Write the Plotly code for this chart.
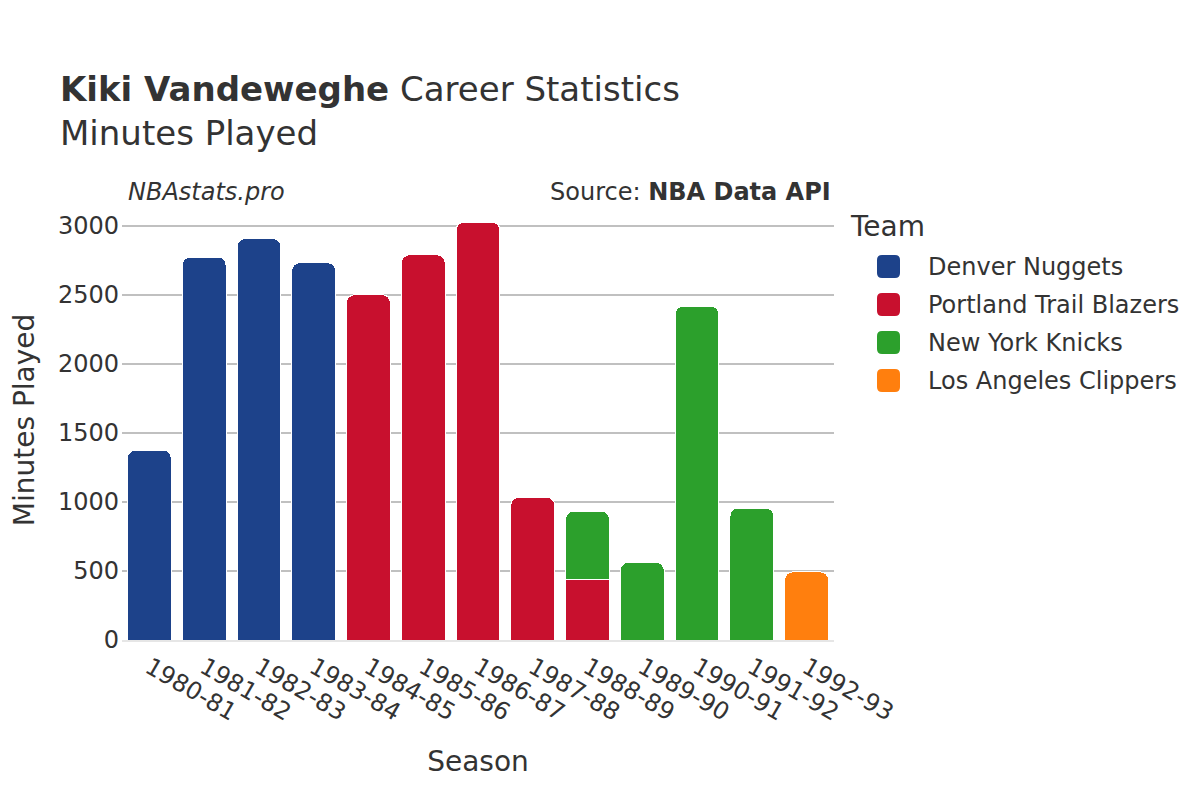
import plotly.graph_objects as go

seasons = ["1980-81", "1981-82", "1982-83", "1983-84", "1984-85", "1985-86", "1986-87",
           "1987-88", "1988-89", "1989-90", "1990-91", "1991-92", "1992-93"]

teams = ["Denver Nuggets", "Portland Trail Blazers", "New York Knicks", "Los Angeles Clippers"]
colors = ["#1d428a", "#c8102e", "#2ca02c", "#ff7f0e"]

denver_seasons = ["1980-81", "1981-82", "1982-83", "1983-84"]
denver_minutes = [1376, 2775, 2909, 2734]

portland_seasons = ["1984-85", "1985-86", "1986-87", "1987-88", "1988-89"]
portland_minutes = [2502, 2791, 3029, 1035, 437]

knicks_seasons = ["1988-89", "1989-90", "1990-91", "1991-92"]
knicks_minutes = [497, 562, 2420, 956]

clippers_seasons = ["1992-93"]
clippers_minutes = [494]

series = [
    (denver_seasons, denver_minutes),
    (portland_seasons, portland_minutes),
    (knicks_seasons, knicks_minutes),
    (clippers_seasons, clippers_minutes),
]

font_family = "DejaVu Sans"
text_color = "#333333"

W, H = 1200, 800
ML, MR, MT, MB = 114, 374, 192, 168
PW = W - ML - MR
PH = H - MT - MB


def px_to_paper_x(px):
    return (px - ML) / PW


def px_to_paper_y(py):
    return (H - MB - py) / PH


fig = go.Figure()
for name, color, (xs, ys) in zip(teams, colors, series):
    fig.add_trace(go.Bar(x=xs, y=ys, name=name, marker_color=color,
                         marker_line_width=1, marker_line_color="white",
                         showlegend=False))

annotations = [
    dict(text="<i>NBAstats.pro</i>", xref="paper", yref="paper", x=0.005, y=1.018,
         xanchor="left", yanchor="middle", showarrow=False,
         font=dict(size=24, color=text_color)),
    dict(text="Source: <b>NBA Data API</b>", xref="paper", yref="paper", x=0.998, y=1.018,
         xanchor="right", yanchor="middle", showarrow=False,
         font=dict(size=24, color=text_color)),
    dict(text="Team", xref="paper", yref="paper", x=px_to_paper_x(840), y=px_to_paper_y(218),
         xanchor="left", yanchor="middle", showarrow=False,
         font=dict(size=28, color=text_color)),
]
shapes = []
sym_half = 11.5
r = 5
sym_path = (f"M{-sym_half + r},{-sym_half} L{sym_half - r},{-sym_half} "
            f"Q{sym_half},{-sym_half} {sym_half},{-sym_half + r} "
            f"L{sym_half},{sym_half - r} Q{sym_half},{sym_half} {sym_half - r},{sym_half} "
            f"L{-sym_half + r},{sym_half} Q{-sym_half},{sym_half} {-sym_half},{sym_half - r} "
            f"L{-sym_half},{-sym_half + r} Q{-sym_half},{-sym_half} {-sym_half + r},{-sym_half} Z")
for i, (name, color) in enumerate(zip(teams, colors)):
    yc = 258.5 + 38 * i
    annotations.append(dict(text=name, xref="paper", yref="paper",
                            x=px_to_paper_x(918), y=px_to_paper_y(yc),
                            xanchor="left", yanchor="middle", showarrow=False,
                            font=dict(size=24, color=text_color)))
    shapes.append(dict(type="path", xref="paper", yref="paper",
                       xsizemode="pixel", ysizemode="pixel",
                       xanchor=px_to_paper_x(880.5), yanchor=px_to_paper_y(yc),
                       path=sym_path, fillcolor=color, line=dict(width=0)))

fig.update_layout(
    width=W, height=H,
    barmode="stack",
    barcornerradius=8,
    bargap=0.2,
    plot_bgcolor="white",
    paper_bgcolor="white",
    font=dict(family=font_family, color=text_color, size=24),
    title=dict(
        text="<b>Kiki Vandeweghe</b> Career Statistics<br>Minutes Played",
        x=52 / W, xanchor="left", y=0.884, yanchor="top",
        font=dict(size=34, family=font_family, color=text_color),
    ),
    margin=dict(l=ML, r=MR, t=MT, b=MB, autoexpand=False),
    showlegend=False,
    xaxis=dict(
        categoryorder="array", categoryarray=seasons,
        title=dict(text="Season", font=dict(size=28), standoff=26),
        tickangle=30,
        tickfont=dict(size=24),
        showgrid=False,
        ticks="", ticklabelstandoff=2,
        showline=True, linecolor="#e6e6e6", linewidth=2,
    ),
    yaxis=dict(
        title=dict(text="Minutes Played", font=dict(size=28), standoff=36),
        tickfont=dict(size=24),
        showgrid=True, gridcolor="#c0c0c0", gridwidth=2,
        ticks="", ticklabelstandoff=2,
        dtick=500,
        zeroline=False,
    ),
    annotations=annotations,
    shapes=shapes,
)

fig.write_html("out.html")
